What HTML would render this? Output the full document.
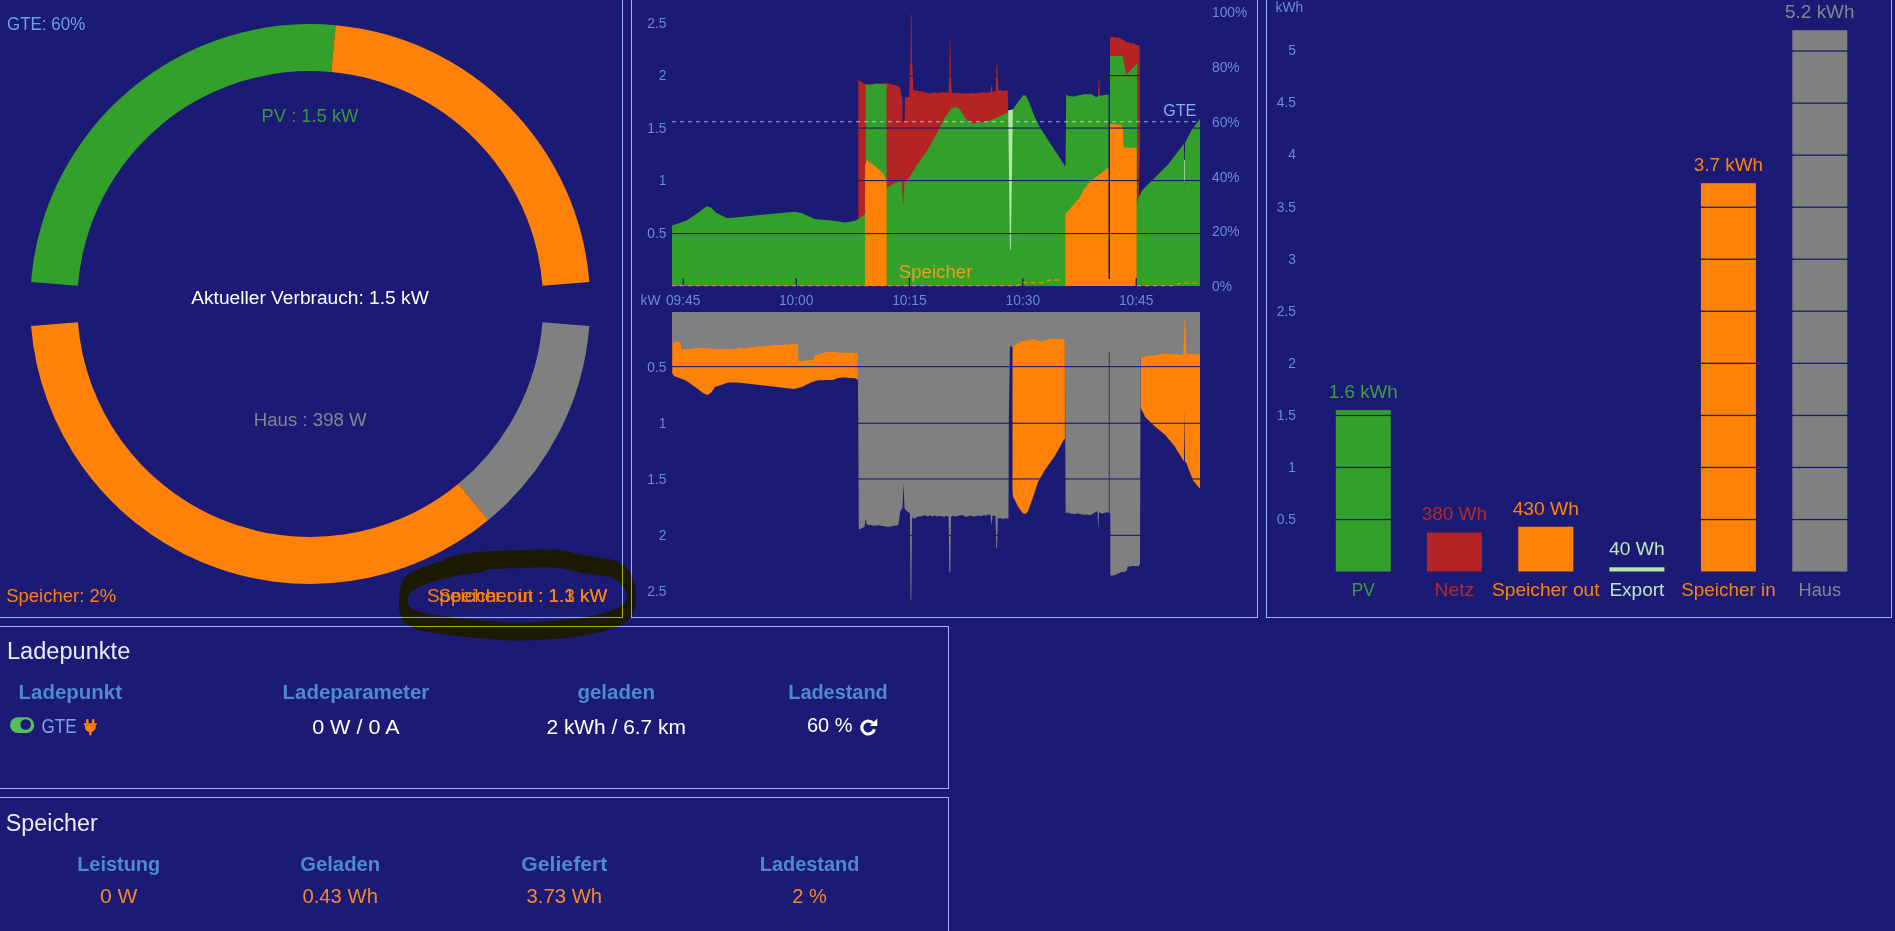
<!DOCTYPE html>
<html lang="de"><head><meta charset="utf-8"><title>openWB</title>
<style>
html,body{margin:0;padding:0;background:#1b1a74;overflow:hidden;}
body{width:1895px;height:931px;position:relative;font-family:"Liberation Sans",sans-serif;}
svg{position:absolute;left:0;top:0;display:block;}
text{font-family:"Liberation Sans",sans-serif;}
.ax{font-size:13.8px;fill:#6b8bd5;}
.lbl{font-size:18.5px;}
.hd{font-size:20px;font-weight:bold;fill:#4f8acb;}
.val{font-size:20px;}
.ttl{font-size:23.5px;fill:#e9ebf5;}
</style></head><body>
<svg width="1895" height="931" viewBox="0 0 1895 931">
<rect width="1895" height="931" fill="#1b1a74"/>

<g fill="none" stroke="#9fb4fa" stroke-width="1" shape-rendering="crispEdges">
<rect x="-4.5" y="-10.5" width="627" height="628"/>
<rect x="631.5" y="-10.5" width="626" height="628"/>
<rect x="1266.5" y="-10.5" width="625" height="628"/>
<rect x="-4.5" y="626.5" width="953" height="162"/>
<rect x="-4.5" y="797.5" width="953" height="200"/>
</g>
<path d="M31.06,282.03 A280.0,280.0 0 0 1 335.58,25.15 L331.32,71.96 A233.0,233.0 0 0 0 77.92,285.72 Z" fill="#33a02c"/>
<path d="M335.58,25.15 A280.0,280.0 0 0 1 589.34,282.03 L542.48,285.72 A233.0,233.0 0 0 0 331.32,71.96 Z" fill="#ff8208"/>
<path d="M589.34,325.97 A280.0,280.0 0 0 1 488.30,520.05 L458.41,483.79 A233.0,233.0 0 0 0 542.48,322.28 Z" fill="#808080"/>
<path d="M488.30,520.05 A280.0,280.0 0 0 1 31.06,325.97 L77.92,322.28 A233.0,233.0 0 0 0 458.41,483.79 Z" fill="#ff8208"/>
<text x="6.9" y="30.2" font-size="17.6" fill="#6e9fe8" textLength="78.5" lengthAdjust="spacingAndGlyphs">GTE: 60%</text>
<text x="310" y="121.8" font-size="17.6" fill="#3b993d" text-anchor="middle" textLength="96.8" lengthAdjust="spacingAndGlyphs">PV : 1.5 kW</text>
<text x="310" y="303.8" font-size="17.6" fill="#ffffff" text-anchor="middle" textLength="237.5" lengthAdjust="spacingAndGlyphs">Aktueller Verbrauch: 1.5 kW</text>
<text x="310.2" y="425.9" font-size="17.6" fill="#85858f" text-anchor="middle" textLength="113" lengthAdjust="spacingAndGlyphs">Haus : 398 W</text>
<text x="6.2" y="602.0" font-size="17.6" fill="#ff8208" textLength="110" lengthAdjust="spacingAndGlyphs">Speicher: 2%</text>
<text x="607.3" y="602.0" font-size="17.6" fill="#ff8208" text-anchor="end" textLength="180.3" lengthAdjust="spacingAndGlyphs">Speicher out : 1.3 kW</text>
<text x="607.3" y="602.0" font-size="17.6" fill="#ff8208" text-anchor="end" textLength="168.8" lengthAdjust="spacingAndGlyphs">Speicher in : 1.1 kW</text>
<polygon points="858.3,286.0 858.3,80.1 862.9,82.7 866.0,84.4 886.4,83.0 899.0,86.2 900.5,90.0 901.5,97.0 902.4,97.3 902.8,121.4 904.6,121.4 905.0,97.5 909.3,97.0 909.8,75.0 910.5,60.0 910.9,14.4 911.5,14.4 912.0,60.0 912.8,75.0 913.4,90.5 915.6,90.3 917.8,90.9 920.0,91.0 922.5,91.4 925.0,92.4 927.5,93.1 930.0,93.5 932.5,92.6 935.0,92.3 937.5,93.2 940.0,92.5 942.9,92.3 945.7,92.5 948.6,93.0 949.3,75.0 949.8,41.0 950.4,41.0 950.9,75.0 951.8,92.5 954.5,93.4 957.3,92.8 960.0,93.0 962.5,93.6 965.0,93.2 967.5,93.6 970.0,93.5 972.5,92.8 975.0,93.2 977.5,93.3 980.0,92.5 982.6,92.4 985.2,92.6 987.9,92.4 990.5,92.0 991.5,83.6 992.5,92.0 995.6,91.0 996.6,64.3 997.3,64.3 998.4,90.5 1000.8,89.9 1003.1,90.9 1005.4,90.6 1007.8,90.5 1008.2,112.8 1008.2,286.0" fill="#b52424"/>
<polygon points="1110.0,286.0 1110.0,37.2 1112.0,37.1 1114.0,37.0 1116.0,37.9 1118.0,37.2 1120.0,38.0 1122.3,39.5 1124.6,40.7 1126.9,42.3 1129.0,42.2 1131.0,43.4 1133.1,43.3 1135.1,44.4 1137.2,45.0 1139.7,46.0 1139.9,150.0 1139.0,197.0 1137.5,201.0 1137.0,286.0" fill="#b52424"/>
<polygon points="1098.0,96.0 1098.6,80.1 1099.2,80.1 1099.8,96.0" fill="#b52424"/>
<polygon points="672.0,286.0 672.0,225.6 686.0,220.7 695.0,215.0 706.7,206.2 711.0,207.5 716.0,212.7 727.7,218.2 760.0,215.0 795.0,211.7 802.0,213.2 814.7,219.1 834.0,220.7 845.0,222.4 855.0,220.7 860.0,218.0 864.6,214.3 865.8,214.0 865.8,84.4 870.0,85.0 873.0,84.4 876.0,83.5 878.6,83.9 881.2,84.1 883.8,84.4 886.4,84.0 886.6,188.0 894.7,183.0 901.3,181.2 901.8,182.0 903.1,207.0 904.6,181.0 908.4,178.7 918.7,162.5 927.3,150.6 935.9,135.1 944.5,118.0 951.4,108.5 955.7,106.8 960.0,109.4 965.1,118.0 970.3,123.1 975.5,123.6 987.5,121.4 997.8,117.1 1007.8,112.8 1008.4,110.2 1012.9,109.4 1018.9,100.8 1023.2,95.3 1025.8,95.6 1029.2,102.5 1034.4,116.2 1039.5,126.5 1051.6,145.5 1058.4,155.8 1065.0,166.0 1065.6,166.0 1066.2,94.8 1069.2,96.0 1072.2,96.5 1074.8,96.5 1077.3,95.6 1079.9,94.9 1082.5,94.8 1085.3,93.9 1088.2,94.4 1091.0,93.9 1093.6,95.6 1096.2,97.3 1098.8,95.6 1101.7,95.6 1104.5,94.9 1107.4,94.8 1110.0,94.8 1110.0,56.0 1122.5,56.0 1123.5,60.0 1126.3,75.0 1136.6,63.8 1137.0,64.0 1137.0,286.0" fill="#33a02c"/>
<polygon points="1136.8,286.0 1136.8,205.0 1137.6,201.0 1139.0,196.6 1142.2,190.2 1153.0,179.5 1168.0,164.4 1183.0,145.1 1184.0,144.0 1184.5,190.0 1185.0,143.0 1191.6,130.0 1199.8,119.3 1200.0,119.3 1200.0,286.0" fill="#33a02c"/>
<polygon points="865.1,286.0 865.1,165.0 866.7,160.0 875.0,166.0 882.7,173.0 886.0,179.0 886.6,188.0 886.6,286.0" fill="#ff8208"/>
<polygon points="1065.3,286.0 1065.3,214.0 1072.2,206.2 1079.0,198.4 1084.2,189.0 1091.0,180.4 1099.7,174.4 1107.4,168.2 1110.0,167.0 1110.0,124.0 1120.3,124.8 1122.9,127.4 1123.7,147.6 1136.6,148.0 1136.6,286.0" fill="#ff8208"/>
<polygon points="1008.2,110.5 1012.9,109.4 1010.8,250.0 1010.0,250.0" fill="#b4e6aa"/>
<rect x="1184.2" y="160" width="0.8" height="22" fill="#b4e6aa"/>
<rect x="1108.5" y="30" width="1.5" height="249" fill="#1b1a74"/>
<rect x="672" y="233.0" width="528" height="1.1" fill="#1b1a74"/>
<rect x="672" y="180.0" width="528" height="1.1" fill="#1b1a74"/>
<rect x="672" y="127.5" width="528" height="1.1" fill="#1b1a74"/>
<rect x="672" y="75.0" width="528" height="1.1" fill="#1b1a74"/>
<rect x="682.6" y="278" width="1.3" height="8" fill="#1b1a74"/>
<rect x="795.6" y="278" width="1.3" height="8" fill="#1b1a74"/>
<rect x="908.8" y="278" width="1.3" height="8" fill="#1b1a74"/>
<rect x="1022.1999999999999" y="278" width="1.3" height="8" fill="#1b1a74"/>
<rect x="1135.6000000000001" y="278" width="1.3" height="8" fill="#1b1a74"/>
<line x1="672" y1="121.7" x2="1200" y2="121.7" stroke="#c6caf7" stroke-opacity="0.8" stroke-width="1.15" stroke-dasharray="4 4"/>
<polyline points="672,285.7 1017,285.7 1023,282.6 1044,282.6 1050,280 1062,280" fill="none" stroke="#ff8208" stroke-width="1.3" stroke-dasharray="4 4"/>
<polyline points="1137,285.7 1174,285.7 1180,283.2 1200,283.2" fill="none" stroke="#ff8208" stroke-width="1.3" stroke-dasharray="4 4"/>
<text x="1196.3" y="115.5" font-size="16.5" fill="#8eb0ee" text-anchor="end" textLength="33" lengthAdjust="spacingAndGlyphs">GTE</text>
<text x="898.8" y="277.7" font-size="17.5" fill="#f59a1a" textLength="73.6" lengthAdjust="spacingAndGlyphs">Speicher</text>
<text class="ax" x="666.5" y="27.5" text-anchor="end">2.5</text>
<text class="ax" x="666.5" y="80.0" text-anchor="end">2</text>
<text class="ax" x="666.5" y="132.7" text-anchor="end">1.5</text>
<text class="ax" x="666.5" y="185.4" text-anchor="end">1</text>
<text class="ax" x="666.5" y="238.0" text-anchor="end">0.5</text>
<text class="ax" x="1212" y="17.0">100%</text>
<text class="ax" x="1212" y="71.7">80%</text>
<text class="ax" x="1212" y="126.7">60%</text>
<text class="ax" x="1212" y="181.7">40%</text>
<text class="ax" x="1212" y="236.0">20%</text>
<text class="ax" x="1212" y="290.7">0%</text>
<text class="ax" x="683.2" y="305" text-anchor="middle">09:45</text>
<text class="ax" x="796.2" y="305" text-anchor="middle">10:00</text>
<text class="ax" x="909.4" y="305" text-anchor="middle">10:15</text>
<text class="ax" x="1022.8" y="305" text-anchor="middle">10:30</text>
<text class="ax" x="1136.2" y="305" text-anchor="middle">10:45</text>
<text class="ax" x="640.5" y="305">kW</text>
<polygon points="672.2,312.0 672.2,373.5 674.2,376.0 685.8,380.6 696.1,387.7 703.8,393.5 707.7,395.1 711.6,392.2 715.4,386.4 716.7,386.4 728.3,382.5 737.3,382.5 794.0,389.0 801.8,387.0 812.1,381.9 817.3,380.6 820.4,380.3 823.5,380.3 826.5,380.1 829.6,380.0 832.7,379.9 837.9,378.0 841.8,377.6 845.6,377.4 849.1,377.9 852.5,378.0 856.0,378.6 857.9,380.6 857.9,312.0" fill="#ff8208"/>
<polygon points="1012.5,312.0 1012.5,490.0 1013.0,496.6 1018.0,506.6 1022.5,513.0 1025.3,514.0 1028.0,511.2 1032.6,498.4 1038.0,482.0 1045.4,469.2 1054.5,456.4 1063.6,440.0 1064.9,438.8 1064.9,312.0" fill="#ff8208"/>
<polygon points="1140.6,312.0 1140.6,407.7 1145.2,416.9 1154.3,426.0 1165.3,435.1 1174.4,446.1 1183.5,460.7 1184.0,461.0 1184.4,409.5 1185.0,462.0 1186.3,462.5 1189.0,470.0 1193.4,481.1 1199.8,488.4 1200.0,488.4 1200.0,312.0" fill="#ff8208"/>
<polygon points="672.0,312.0 672.2,343.2 676.8,341.5 680.4,342.5 681.3,349.6 684.8,349.2 688.3,348.9 691.7,348.9 695.2,348.0 698.7,347.7 702.0,348.0 705.3,348.3 708.6,348.2 712.0,348.8 715.3,349.2 718.6,349.6 721.9,349.6 725.0,349.0 728.1,348.9 731.2,348.5 734.4,348.9 737.5,348.6 740.6,347.7 743.7,348.4 746.8,348.1 749.9,347.6 753.0,347.3 756.1,346.6 759.2,346.2 762.4,346.5 765.5,345.8 768.6,345.7 771.7,345.5 774.8,345.0 777.9,345.2 781.0,344.9 784.1,345.1 787.3,344.5 790.4,344.4 793.5,344.0 796.6,343.8 797.5,344.5 798.6,361.2 802.3,361.1 806.0,360.6 809.7,360.1 813.4,360.0 815.3,354.8 818.4,354.5 821.5,353.7 824.5,352.7 827.6,351.6 830.8,352.1 834.0,352.1 837.3,352.3 840.5,352.9 843.6,352.7 846.7,352.5 849.8,353.2 852.9,352.8 856.0,352.9 857.9,353.5 858.8,529.5 864.5,527.0 865.5,518.5 866.5,524.0 868.3,524.9 870.6,525.1 872.8,525.6 875.1,525.8 877.4,525.2 879.7,525.2 882.0,526.0 884.2,526.1 886.5,526.7 888.9,526.8 891.3,526.3 893.6,525.8 896.0,525.4 898.4,524.9 900.2,511.2 902.5,508.0 903.5,483.0 904.5,508.0 905.7,510.3 909.3,513.0 909.9,514.0 910.6,599.8 911.3,599.8 912.0,516.0 913.0,518.5 915.5,518.1 918.0,516.6 920.5,516.4 923.0,515.8 925.3,515.3 927.7,516.6 930.0,515.3 932.3,516.6 934.6,515.5 937.0,516.6 939.3,516.1 941.6,516.3 943.9,517.1 946.3,515.8 948.6,516.7 949.3,572.4 950.3,572.4 951.0,516.7 953.2,515.7 955.5,516.8 957.8,515.8 960.0,515.5 962.5,515.0 965.0,516.6 967.5,516.7 970.0,515.5 972.5,516.2 975.0,516.5 977.2,515.7 979.4,515.8 981.6,516.1 983.9,515.1 986.1,515.7 988.3,514.5 990.5,515.0 991.5,525.8 992.5,515.5 995.5,516.0 996.3,547.7 997.1,547.7 997.9,517.0 998.8,518.5 1001.1,518.0 1003.3,519.0 1005.6,518.3 1007.9,518.5 1008.5,518.0 1008.8,420.0 1010.0,346.6 1012.8,346.6 1016.0,344.3 1019.2,342.9 1021.0,341.1 1023.8,341.0 1026.5,340.5 1029.2,340.4 1032.0,339.3 1034.3,339.4 1036.5,340.2 1038.8,340.7 1041.1,342.0 1043.4,340.7 1045.7,340.8 1048.0,338.9 1050.3,338.7 1052.8,338.9 1055.4,338.4 1057.9,338.7 1060.5,339.1 1063.0,339.3 1064.9,340.0 1065.6,513.0 1067.9,512.6 1070.2,513.6 1072.5,513.8 1074.8,514.3 1077.1,513.6 1079.5,513.7 1081.8,514.6 1084.1,514.7 1086.4,514.4 1088.7,515.1 1091.0,515.0 1093.8,513.0 1096.6,511.2 1097.5,512.0 1098.2,529.5 1099.0,512.0 1100.0,513.0 1102.6,513.4 1105.2,512.5 1107.7,512.6 1110.3,513.0 1110.3,575.5 1113.5,575.4 1116.7,574.2 1119.2,573.1 1121.7,572.1 1124.2,571.9 1126.7,570.6 1127.7,566.5 1130.4,566.6 1133.2,565.8 1135.9,566.2 1138.6,566.0 1139.5,564.2 1140.0,564.0 1140.6,357.0 1143.3,357.2 1146.1,355.8 1148.8,356.3 1151.6,355.3 1154.3,356.0 1157.1,354.5 1159.8,354.8 1161.5,353.0 1164.2,353.7 1166.9,353.7 1169.6,354.1 1172.3,354.5 1175.1,353.8 1177.8,354.2 1180.5,354.8 1183.2,354.8 1183.9,340.0 1184.5,319.2 1185.2,319.2 1185.8,340.0 1186.6,354.2 1189.3,353.9 1192.0,353.9 1194.6,353.9 1197.3,354.6 1200.0,354.2 1200.0,312.0" fill="#808080"/>
<rect x="1108.8" y="352" width="0.9" height="224" fill="#1b1a74" fill-opacity="0.8"/>
<rect x="672" y="366.1" width="528" height="1.1" fill="#1b1a74"/>
<rect x="672" y="422.7" width="528" height="1.1" fill="#1b1a74"/>
<rect x="672" y="478.4" width="528" height="1.1" fill="#1b1a74"/>
<rect x="672" y="534.8" width="528" height="1.1" fill="#1b1a74"/>
<text class="ax" x="666.5" y="372.0" text-anchor="end">0.5</text>
<text class="ax" x="666.5" y="428.0" text-anchor="end">1</text>
<text class="ax" x="666.5" y="484.0" text-anchor="end">1.5</text>
<text class="ax" x="666.5" y="540.0" text-anchor="end">2</text>
<text class="ax" x="666.5" y="596.0" text-anchor="end">2.5</text>
<rect x="1335.8" y="410.1" width="55" height="161.4" fill="#33a02c"/>
<rect x="1426.9" y="532.5" width="55" height="39.0" fill="#b52424"/>
<rect x="1518.3" y="526.7" width="55" height="44.8" fill="#ff8208"/>
<rect x="1609.4" y="567.3" width="55" height="4.2" fill="#b4e6aa"/>
<rect x="1700.9" y="183.2" width="55" height="388.3" fill="#ff8208"/>
<rect x="1792.3" y="30.2" width="55" height="541.3" fill="#808080"/>
<rect x="1330" y="518.9" width="525" height="1.3" fill="#1b1a74"/>
<rect x="1330" y="466.8" width="525" height="1.3" fill="#1b1a74"/>
<rect x="1330" y="414.8" width="525" height="1.3" fill="#1b1a74"/>
<rect x="1330" y="362.7" width="525" height="1.3" fill="#1b1a74"/>
<rect x="1330" y="310.6" width="525" height="1.3" fill="#1b1a74"/>
<rect x="1330" y="258.6" width="525" height="1.3" fill="#1b1a74"/>
<rect x="1330" y="206.6" width="525" height="1.3" fill="#1b1a74"/>
<rect x="1330" y="154.5" width="525" height="1.3" fill="#1b1a74"/>
<rect x="1330" y="102.5" width="525" height="1.3" fill="#1b1a74"/>
<rect x="1330" y="50.4" width="525" height="1.3" fill="#1b1a74"/>
<text x="1363.3" y="397.9" class="lbl" fill="#3f9f3f" text-anchor="middle" textLength="69" lengthAdjust="spacingAndGlyphs">1.6 kWh</text>
<text x="1363.3" y="595.6" class="lbl" fill="#3f9f3f" text-anchor="middle" textLength="23" lengthAdjust="spacingAndGlyphs">PV</text>
<text x="1454.4" y="520.3" class="lbl" fill="#b52a2a" text-anchor="middle" textLength="65.3" lengthAdjust="spacingAndGlyphs">380 Wh</text>
<text x="1454.4" y="595.6" class="lbl" fill="#b52a2a" text-anchor="middle" textLength="39.8" lengthAdjust="spacingAndGlyphs">Netz</text>
<text x="1545.8" y="514.5" class="lbl" fill="#ff8208" text-anchor="middle" textLength="66.3" lengthAdjust="spacingAndGlyphs">430 Wh</text>
<text x="1545.8" y="595.6" class="lbl" fill="#ff8208" text-anchor="middle" textLength="107.6" lengthAdjust="spacingAndGlyphs">Speicher out</text>
<text x="1636.9" y="555.1" class="lbl" fill="#bfe8b8" text-anchor="middle" textLength="55.7" lengthAdjust="spacingAndGlyphs">40 Wh</text>
<text x="1636.9" y="595.6" class="lbl" fill="#bfe8b8" text-anchor="middle" textLength="55" lengthAdjust="spacingAndGlyphs">Export</text>
<text x="1728.4" y="171.0" class="lbl" fill="#ff8208" text-anchor="middle" textLength="69.4" lengthAdjust="spacingAndGlyphs">3.7 kWh</text>
<text x="1728.4" y="595.6" class="lbl" fill="#ff8208" text-anchor="middle" textLength="94.5" lengthAdjust="spacingAndGlyphs">Speicher in</text>
<text x="1819.8" y="18.0" class="lbl" fill="#85858f" text-anchor="middle" textLength="69.4" lengthAdjust="spacingAndGlyphs">5.2 kWh</text>
<text x="1819.8" y="595.6" class="lbl" fill="#85858f" text-anchor="middle" textLength="42.5" lengthAdjust="spacingAndGlyphs">Haus</text>
<text class="ax" x="1296" y="523.8" text-anchor="end">0.5</text>
<text class="ax" x="1296" y="471.7" text-anchor="end">1</text>
<text class="ax" x="1296" y="419.7" text-anchor="end">1.5</text>
<text class="ax" x="1296" y="367.6" text-anchor="end">2</text>
<text class="ax" x="1296" y="315.6" text-anchor="end">2.5</text>
<text class="ax" x="1296" y="263.5" text-anchor="end">3</text>
<text class="ax" x="1296" y="211.5" text-anchor="end">3.5</text>
<text class="ax" x="1296" y="159.4" text-anchor="end">4</text>
<text class="ax" x="1296" y="107.4" text-anchor="end">4.5</text>
<text class="ax" x="1296" y="55.3" text-anchor="end">5</text>
<text class="ax" x="1275.5" y="11.5" font-size="13">kWh</text>
<text x="7.0" y="658.8" class="ttl" textLength="123.3" lengthAdjust="spacingAndGlyphs">Ladepunkte</text>
<text x="70.3" y="699.3" class="hd" text-anchor="middle" textLength="103.5" lengthAdjust="spacingAndGlyphs">Ladepunkt</text>
<text x="355.9" y="699.3" class="hd" text-anchor="middle" textLength="146.7" lengthAdjust="spacingAndGlyphs">Ladeparameter</text>
<text x="616.2" y="699.3" class="hd" text-anchor="middle" textLength="77.6" lengthAdjust="spacingAndGlyphs">geladen</text>
<text x="838" y="699.3" class="hd" text-anchor="middle" textLength="99.5" lengthAdjust="spacingAndGlyphs">Ladestand</text>
<rect x="10" y="717.3" width="24.2" height="15.8" rx="7.9" fill="#55be5c"/>
<circle cx="25.7" cy="724.5" r="5.3" fill="#1b1a74"/>
<text x="41.6" y="732.7" class="val" fill="#7da5eb" textLength="35" lengthAdjust="spacingAndGlyphs">GTE</text>
<g transform="translate(83.8,719)" fill="#ff8208"><rect x="2.4" y="0" width="2.4" height="5" rx="1.1"/><rect x="8.2" y="0" width="2.4" height="5" rx="1.1"/><rect x="0" y="4.2" width="13" height="2" rx="0.6"/><path d="M1,6.2 H12 V7.6 A5.5,5.5 0 0 1 6.5,13.1 A5.5,5.5 0 0 1 1,7.6 Z"/><rect x="5.3" y="12" width="2.4" height="4.2"/></g>
<text x="355.9" y="733.8" class="val" fill="#ffffff" text-anchor="middle" textLength="87.5" lengthAdjust="spacingAndGlyphs">0 W / 0 A</text>
<text x="616.2" y="733.8" class="val" fill="#ffffff" text-anchor="middle" textLength="139.5" lengthAdjust="spacingAndGlyphs">2 kWh / 6.7 km</text>
<text x="807.0" y="732.2" class="val" fill="#ffffff" textLength="45.5" lengthAdjust="spacingAndGlyphs">60 %</text>
<g transform="translate(859.4,718.4)"><path d="M13.6,4.6 A6.5,6.5 0 1 0 15.1,10.9" fill="none" stroke="#ffffff" stroke-width="3.1"/><path d="M17.9,0.2 V7.6 H10.5 Z" fill="#ffffff"/></g>
<text x="5.8" y="830.5" class="ttl" textLength="92" lengthAdjust="spacingAndGlyphs">Speicher</text>
<text x="118.7" y="871" class="hd" text-anchor="middle" textLength="83" lengthAdjust="spacingAndGlyphs">Leistung</text>
<text x="118.7" y="903.4" class="val" fill="#f5862a" text-anchor="middle" textLength="37.5" lengthAdjust="spacingAndGlyphs">0 W</text>
<text x="340.2" y="871" class="hd" text-anchor="middle" textLength="80" lengthAdjust="spacingAndGlyphs">Geladen</text>
<text x="340.2" y="903.4" class="val" fill="#f5862a" text-anchor="middle" textLength="75.5" lengthAdjust="spacingAndGlyphs">0.43 Wh</text>
<text x="564.3" y="871" class="hd" text-anchor="middle" textLength="86" lengthAdjust="spacingAndGlyphs">Geliefert</text>
<text x="564.3" y="903.4" class="val" fill="#f5862a" text-anchor="middle" textLength="75.5" lengthAdjust="spacingAndGlyphs">3.73 Wh</text>
<text x="809.6" y="871" class="hd" text-anchor="middle" textLength="99.5" lengthAdjust="spacingAndGlyphs">Ladestand</text>
<text x="809.6" y="903.4" class="val" fill="#f5862a" text-anchor="middle" textLength="34.5" lengthAdjust="spacingAndGlyphs">2 %</text>
<defs><path id="hl" d="M447.0,566.5 C450.8,565.8 462.8,563.0 470.0,562.0 C477.2,561.0 483.3,560.6 490.0,560.2 C496.7,559.8 500.8,559.7 510.0,559.4 C519.2,559.1 536.2,558.3 545.0,558.3 C553.8,558.3 557.0,558.6 563.0,559.5 C569.0,560.4 574.1,562.3 581.0,563.6 C587.9,564.9 598.7,566.1 604.6,567.2 C610.5,568.4 612.8,568.6 616.4,570.5 C620.0,572.4 623.6,575.2 626.0,578.5 C628.4,581.8 630.1,586.4 631.0,590.0 C631.9,593.6 632.0,596.6 631.5,600.0 C631.0,603.4 629.7,607.6 627.7,610.3 C625.7,613.0 623.1,614.2 619.3,616.2 C615.4,618.2 611.0,620.2 604.6,622.0 C598.2,623.8 588.9,625.5 581.0,626.8 C573.1,628.1 564.9,629.1 557.0,629.8 C549.1,630.5 541.4,630.9 533.6,631.2 C525.8,631.5 516.2,631.7 510.0,631.6 C503.8,631.5 504.6,631.4 496.4,630.7 C488.2,630.0 470.8,628.5 460.9,627.4 C451.0,626.3 444.2,625.5 437.3,624.4 C430.4,623.3 424.6,622.4 419.6,620.8 C414.6,619.2 410.2,617.3 407.5,615.0 C404.8,612.7 404.0,610.0 403.3,607.0 C402.6,604.0 402.9,600.0 403.3,597.0 C403.7,594.0 404.4,591.4 405.5,589.0 C406.6,586.6 407.6,584.5 410.0,582.6 C412.4,580.7 415.1,579.5 419.6,577.6 C424.2,575.7 430.4,573.2 437.3,571.3 C444.2,569.4 453.7,567.3 461.0,566.0 C468.3,564.7 477.7,563.8 481.0,563.4"/></defs>
<g style="mix-blend-mode:multiply" fill="none" stroke="#ffff00" stroke-width="7.5" stroke-linecap="round" stroke-linejoin="round">
<use href="#hl" y="-5.2"/>
<use href="#hl" y="-3.5"/>
<use href="#hl" y="-1.7"/>
<use href="#hl" y="0"/>
<use href="#hl" y="1.7"/>
<use href="#hl" y="3.5"/>
<use href="#hl" y="5.2"/>
</g>
</svg></body></html>
